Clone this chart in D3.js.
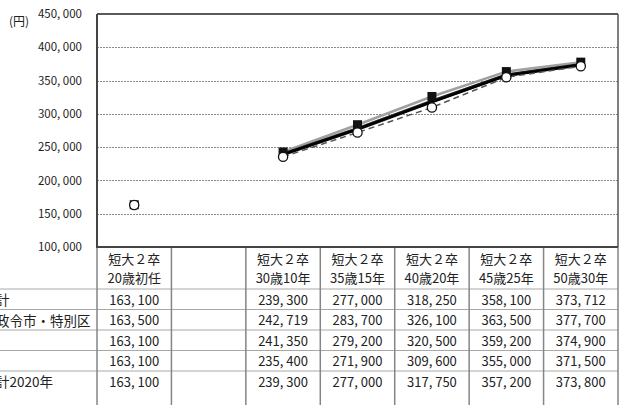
<!DOCTYPE html>
<html>
<head>
<meta charset="utf-8">
<script src="https://cdn.jsdelivr.net/npm/d3@7"></script>
<style>
  html, body { margin: 0; padding: 0; background: #fff; }
  svg { display: block; font-family: "Noto Sans CJK JP", "Noto Sans", sans-serif; }
</style>
</head>
<body>
<svg id="chart" width="619" height="405"></svg>
<script>
// Categories (two header lines per column; the second column is an empty spacer)
const catLine1 = ["短大２卒", "", "短大２卒", "短大２卒", "短大２卒", "短大２卒", "短大２卒"];
const catLine2 = ["20歳初任", "", "30歳10年", "35歳15年", "40歳20年", "45歳25年", "50歳30年"];

// Series names (row labels of the data table)
const seriesNames = ["全国計", "全国政令市・特別区", "市", "町村", "全国計2020年"];

// Monthly salary values (円); null = empty column
const zenkoku     = [163100, null, 239300, 277000, 318250, 358100, 373712];
const seirei      = [163500, null, 242719, 283700, 326100, 363500, 377700];
const shi         = [163100, null, 241350, 279200, 320500, 359200, 374900];
const choson      = [163100, null, 235400, 271900, 309600, 355000, 371500];
const zenkoku2020 = [163100, null, 239300, 277000, 317750, 357200, 373800];

// Value axis ticks and unit
const yTicks = [100000, 150000, 200000, 250000, 300000, 350000, 400000, 450000];
const unitLabel = "(円)";

const seriesValues = [zenkoku, seirei, shi, choson, zenkoku2020];

// Number format with Japanese-style comma spacing
const locale = d3.formatLocale({ decimal: ".", thousands: ", ", grouping: [3], currency: ["", "円"] });
const fmt = locale.format(",d");

const svg = d3.select("#chart");
const W = 619, H = 405;
const X0 = 97, X1 = 618, Y0 = 14, Y1 = 247;
const headerBottom = 289, rowH = 20.5;

const x = d3.scaleBand().domain(d3.range(catLine1.length)).range([X0, X1]).padding(0);
const y = d3.scaleLinear().domain([100000, 450000]).range([Y1, Y0]);
const cx = i => x(i) + x.bandwidth() / 2;

// Gridlines (dotted), excluding the frame lines
svg.append("g").selectAll("line")
  .data(yTicks.filter(t => t > 100000 && t < 450000))
  .join("line")
  .attr("x1", X0).attr("x2", X1)
  .attr("y1", d => Math.round(y(d)) + 0.5).attr("y2", d => Math.round(y(d)) + 0.5)
  .attr("stroke", "#8a8a8a").attr("stroke-width", 1).attr("stroke-dasharray", "2,1");

// Value axis labels
const yAxis = d3.axisLeft(y).tickValues(yTicks).tickSize(0).tickPadding(X0 - 82).tickFormat(fmt);
const gy = svg.append("g").attr("transform", `translate(${X0},0)`).call(yAxis);
gy.select(".domain").remove();
gy.selectAll("text").attr("font-size", 11.5).attr("fill", "#222")
  .attr("font-family", "\"Noto Sans CJK JP\", sans-serif");

svg.append("text").attr("x", 9).attr("y", 20).attr("dominant-baseline", "central")
  .attr("font-size", 12).attr("fill", "#222").text(unitLabel);

// Table grid (the last row runs past the bottom edge)
const tableG = svg.append("g");
const rowEdges = d3.range(seriesNames.length).map(i => headerBottom + i * rowH);
tableG.selectAll("line.h").data(rowEdges).join("line").attr("class", "h")
  .attr("x1", 0).attr("x2", X1)
  .attr("y1", d => d).attr("y2", d => d)
  .attr("stroke", "#a8a8a8").attr("stroke-width", 1);
const colEdges = d3.range(catLine1.length + 1).map(i => X0 + i * x.bandwidth());
tableG.selectAll("line.v").data(colEdges).join("line").attr("class", "v")
  .attr("x1", d => d).attr("x2", d => d)
  .attr("y1", Y1).attr("y2", H)
  .attr("stroke", "#858585").attr("stroke-width", 1.5);

// Header text
const hdr = svg.append("g").attr("font-size", 13).attr("fill", "#222").attr("text-anchor", "middle");
hdr.selectAll("text.l1").data(catLine1).join("text").attr("class", "l1")
  .attr("x", (d, i) => cx(i)).attr("y", 258).attr("dominant-baseline", "central").text(d => d);
hdr.selectAll("text.l2").data(catLine2).join("text").attr("class", "l2")
  .attr("x", (d, i) => cx(i)).attr("y", 277).attr("dominant-baseline", "central").text(d => d);

// Row labels and values
seriesValues.forEach((vals, r) => {
  const yc = headerBottom + r * rowH + rowH / 2;
  svg.append("text").attr("x", -31).attr("y", yc).attr("dominant-baseline", "central")
    .attr("font-size", 13.5).attr("fill", "#222").text(seriesNames[r]);
  svg.append("g").attr("font-size", 13).attr("fill", "#222").attr("text-anchor", "middle")
    .selectAll("text").data(vals).join("text")
    .attr("x", (d, i) => cx(i)).attr("y", yc).attr("dominant-baseline", "central")
    .text(d => d == null ? "" : fmt(d));
});

// Plot frame
svg.append("line").attr("x1", X0).attr("x2", X1).attr("y1", Y0).attr("y2", Y0)
  .attr("stroke", "#222").attr("stroke-width", 1.5);
svg.append("line").attr("x1", X1).attr("x2", X1).attr("y1", Y0).attr("y2", Y1)
  .attr("stroke", "#555").attr("stroke-width", 1.5);
svg.append("line").attr("x1", X0).attr("x2", X0).attr("y1", Y0).attr("y2", Y1 + 1)
  .attr("stroke", "#444").attr("stroke-width", 2);
svg.append("line").attr("x1", X0).attr("x2", X1).attr("y1", Y1).attr("y2", Y1)
  .attr("stroke", "#444").attr("stroke-width", 2);

// Lines
const line = d3.line().defined(d => d != null).x((d, i) => cx(i)).y(d => y(d));
const lineStyles = [
  { data: seirei,      stroke: "#a0a0a0", width: 2.5, dash: null },
  { data: shi,         stroke: "#777",    width: 1.5, dash: null },
  { data: zenkoku,     stroke: "#111",    width: 3.4, dash: null },
  { data: zenkoku2020, stroke: "#000",    width: 2,   dash: null },
  { data: choson,      stroke: "#555",    width: 1.5, dash: "6,4" }
];
const lg = svg.append("g").attr("fill", "none");
lineStyles.forEach(s => {
  lg.append("path").datum(s.data).attr("d", line)
    .attr("stroke", s.stroke).attr("stroke-width", s.width)
    .attr("stroke-dasharray", s.dash).attr("stroke-linejoin", "round");
});

// Markers: squares for 政令市・特別区, open circles for 町村
const pts = arr => arr.map((v, i) => ({ v, i })).filter(d => d.v != null);
svg.append("g").selectAll("rect").data(pts(seirei)).join("rect")
  .attr("x", d => cx(d.i) - 4.5).attr("y", d => y(d.v) - 4.5)
  .attr("width", 9).attr("height", 9).attr("fill", "#111");
svg.append("g").selectAll("circle").data(pts(choson)).join("circle")
  .attr("cx", d => cx(d.i)).attr("cy", d => y(d.v)).attr("r", 4.6)
  .attr("fill", "#fff").attr("stroke", "#111").attr("stroke-width", 1.3);
</script>
</body>
</html>
